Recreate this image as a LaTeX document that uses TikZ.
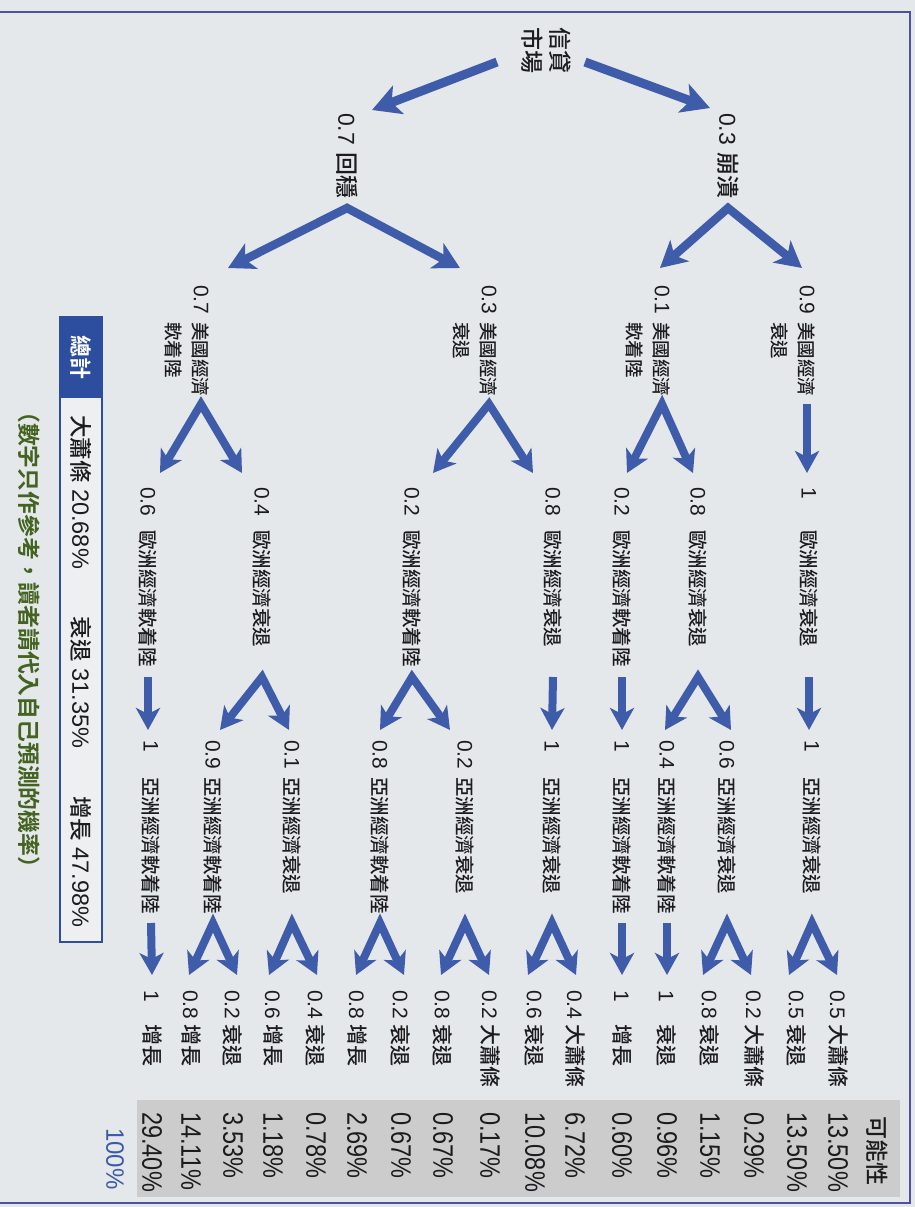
\documentclass[tikz,border=0pt]{standalone}
\usepackage{fontspec}
\setmainfont{Liberation Sans}
\newfontfamily\cjk{Noto Sans CJK TC}[UprightFont={* Medium},BoldFont={* Bold}]
\usetikzlibrary{arrows.meta,calc}
\definecolor{paper}{RGB}{229,232,234}
\definecolor{band}{RGB}{203,204,203}
\definecolor{arrblue}{RGB}{62,92,170}
\definecolor{hdrblue}{RGB}{45,78,158}
\definecolor{framec}{RGB}{80,80,160}
\definecolor{ink}{RGB}{28,28,30}
\definecolor{greentxt}{RGB}{68,98,32}
\definecolor{boxfill}{RGB}{237,239,240}
\definecolor{pctblue}{RGB}{58,90,170}
\newcommand\zh[1]{{\cjk #1}}
\newcommand\zhs[2]{{\cjk\fontsize{#1}{#1}\selectfont #2}}
\newcommand\fsz[1]{\fontsize{#1}{#1}\selectfont}
\newcommand\nb[2]{\makebox[#1][l]{#2}}
\newcommand\Vconn[6]{\draw[varr] ($(#3 |- y#1b)+(#4,0)$) -- (#2 |- y#1a) -- ($(#5 |- y#1b)+(#6,0)$);}
\newcommand\Sconn[3]{\draw[arr] (#2 |- y#1a) -- (#3 |- y#1b);}
\tikzset{
  lab/.style={rotate=-90, anchor=west, inner sep=0pt, text=ink},
  arr/.style={draw=arrblue, line width=8pt, -{Stealth[length=22pt,width=24pt,inset=6pt]}},
  varr/.style={draw=arrblue, line width=8pt, line join=miter,
    {Stealth[length=22pt,width=24pt,inset=6pt]}-{Stealth[length=22pt,width=24pt,inset=6pt]}},
  bigarr/.style={draw=arrblue, line width=9pt, -{Stealth[length=28pt,width=30pt,inset=7pt]}},
  bigvarr/.style={draw=arrblue, line width=8.5pt, line join=miter,
    {Stealth[length=26pt,width=28pt,inset=7pt]}-{Stealth[length=26pt,width=28pt,inset=7pt]}},
}
\begin{document}
\begin{tikzpicture}[x=1pt,y=-1pt]
\useasboundingbox (0,0) rectangle (915,1207);
\fill[paper] (0,0) rectangle (915,1207);
\fill[band] (137,1100) rectangle (900,1197);
\draw[framec, line width=2.5pt] (0,12) -- (910,12) -- (910,1203) -- (0,1203);

% level y coordinates
\coordinate (y1a) at (0,208); \coordinate (y1b) at (0,268);
\coordinate (y2a) at (0,404); \coordinate (y2b) at (0,473);
\coordinate (y3a) at (0,677); \coordinate (y3b) at (0,730);
\coordinate (y4a) at (0,923); \coordinate (y4b) at (0,975);

% root
\node[rotate=-90, inner sep=0pt, text=ink, align=center, font=\fontsize{23}{28}\selectfont\cjk] (root) at (546,51) {信貸\\市場};

% level 1
\node[lab, font=\fsz{23}] (n1a) at (728,113) {\nb{39pt}{0.3}\zh{崩潰}};
\node[lab, font=\fsz{23}] (n1b) at (347,113) {\nb{39pt}{0.7}\zh{回穩}};

% level 2
\node[lab, align=left, font=\fontsize{21}{27}\selectfont] (n2a) at (793.5,285) {\nb{37pt}{0.9}\zhs{18.5}{美國經濟}\\\hspace*{37pt}\zhs{18.5}{衰退}};
\node[lab, align=left, font=\fontsize{21}{27}\selectfont] (n2b) at (648.5,285) {\nb{37pt}{0.1}\zhs{18.5}{美國經濟}\\\hspace*{37pt}\zhs{18.5}{軟着陸}};
\node[lab, align=left, font=\fontsize{21}{27}\selectfont] (n2c) at (475.5,285) {\nb{37pt}{0.3}\zhs{18.5}{美國經濟}\\\hspace*{37pt}\zhs{18.5}{衰退}};
\node[lab, align=left, font=\fontsize{21}{27}\selectfont] (n2d) at (187.5,285) {\nb{37pt}{0.7}\zhs{18.5}{美國經濟}\\\hspace*{37pt}\zhs{18.5}{軟着陸}};
\coordinate (n2a1) at ($(n2a.west)+(13.5,0)$);
\coordinate (n2b1) at ($(n2b.west)+(13.5,0)$);
\coordinate (n2c1) at ($(n2c.west)+(13.5,0)$);
\coordinate (n2d1) at ($(n2d.west)+(13.5,0)$);

% level 3
\tikzset{l3/.style={lab, font=\fsz{21}}}
\node[l3] (n3a) at (809,487) {\nb{43pt}{1}\zhs{19.5}{歐洲經濟衰退}};
\node[l3] (n3b) at (698,487) {\nb{43pt}{0.8}\zhs{19.5}{歐洲經濟衰退}};
\node[l3] (n3c) at (622,487) {\nb{43pt}{0.2}\zhs{19.5}{歐洲經濟軟着陸}};
\node[l3] (n3d) at (553,487) {\nb{43pt}{0.8}\zhs{19.5}{歐洲經濟衰退}};
\node[l3] (n3e) at (412,487) {\nb{43pt}{0.2}\zhs{19.5}{歐洲經濟軟着陸}};
\node[l3] (n3f) at (262,487) {\nb{43pt}{0.4}\zhs{19.5}{歐洲經濟衰退}};
\node[l3] (n3g) at (148,487) {\nb{43pt}{0.6}\zhs{19.5}{歐洲經濟軟着陸}};

% level 4
\node[l3] (n4a) at (812,740) {\nb{37pt}{1}\zhs{19.5}{亞洲經濟衰退}};
\node[l3] (n4b) at (727,740) {\nb{37pt}{0.6}\zhs{19.5}{亞洲經濟衰退}};
\node[l3] (n4c) at (667,740) {\nb{37pt}{0.4}\zhs{19.5}{亞洲經濟軟着陸}};
\node[l3] (n4d) at (622,740) {\nb{37pt}{1}\zhs{19.5}{亞洲經濟軟着陸}};
\node[l3] (n4e) at (552,740) {\nb{37pt}{1}\zhs{19.5}{亞洲經濟衰退}};
\node[l3] (n4f) at (465,740) {\nb{37pt}{0.2}\zhs{19.5}{亞洲經濟衰退}};
\node[l3] (n4g) at (380,740) {\nb{37pt}{0.8}\zhs{19.5}{亞洲經濟軟着陸}};
\node[l3] (n4h) at (292,740) {\nb{37pt}{0.1}\zhs{19.5}{亞洲經濟衰退}};
\node[l3] (n4i) at (213,740) {\nb{37pt}{0.9}\zhs{19.5}{亞洲經濟軟着陸}};
\node[l3] (n4j) at (151,740) {\nb{37pt}{1}\zhs{19.5}{亞洲經濟軟着陸}};

% leaves
\foreach \n/\x/\p/\t in {l1/838/0.5/大蕭條, l2/797/0.5/衰退, l3/754/0.2/大蕭條, l4/710/0.8/衰退,
  l5/667/1/衰退, l6/622/1/增長, l7/575/0.4/大蕭條, l8/535/0.6/衰退, l9/490/0.2/大蕭條,
  l10/443/0.8/衰退, l11/401/0.2/衰退, l12/357/0.8/增長, l13/316/0.4/衰退, l14/273/0.6/增長,
  l15/233/0.2/衰退, l16/191/0.8/增長, l17/152/1/增長}
  {\node[lab, font=\fsz{21}] (\n) at (\x,990) {\nb{34pt}{\p}\zhs{21}{\t}};}

% probabilities
\node[lab, font=\fsz{23}] (kn) at (877,1116) {\zh{可能性}};
\foreach \n/\x/\v in {p1/838/13.50, p2/797/13.50, p3/754/0.29, p4/710/1.15, p5/667/0.96,
  p6/622/0.60, p7/575/6.72, p8/535/10.08, p9/490/0.17, p10/443/0.67, p11/401/0.67,
  p12/357/2.69, p13/316/0.78, p14/273/1.18, p15/233/3.53, p16/191/14.11, p17/152/29.40}
  {\node[lab, font=\fsz{23.5}] (\n) at (\x,1112) {\scalebox{1}[1.2]{\v\%}};}
\node[lab, font=\fsz{24}, text=pctblue] (hund) at (115,1128) {\scalebox{1}[1.05]{100\%}};

% connectors
\draw[bigarr] ($(root.center)+(39,11)$) -- ($(n1a.west)+(-18,-5)$);
\draw[bigarr] ($(root.center)+(-49,11)$) -- ($(n1b.west)+(25,-3)$);
\begin{scope}[varr/.style=bigvarr]
\Vconn{1}{n1a.west}{n2a1}{-5}{n2b1}{-2}
\Vconn{1}{n1b.west}{n2c1}{-29}{n2d1}{27}
\end{scope}
\Sconn{2}{n2a1}{n2a1}
\Vconn{2}{n2b1}{n3b.west}{-5}{n3c.west}{5}
\Vconn{2}{n2c1}{n3d.west}{-20}{n3e.west}{21}
\Vconn{2}{n2d1}{n3f.west}{-20}{n3g.west}{12}
\Sconn{3}{n3a.west}{n3a.west}
\Vconn{3}{n3b.west}{n4b.west}{4}{n4c.west}{-2}
\Sconn{3}{n3c.west}{n4d.west}
\Sconn{3}{n3d.west}{n4e.west}
\Vconn{3}{n3e.west}{n4f.west}{-15}{n4g.west}{0}
\Vconn{3}{n3f.west}{n4h.west}{-3}{n4i.west}{7}
\Sconn{3}{n3g.west}{n3g.west}
\Vconn{4}{n4a.west}{l1.west}{-1}{l2.west}{-8}
\Vconn{4}{n4b.west}{l3.west}{-3}{l4.west}{-7}
\Sconn{4}{n4c.west}{l5.west}
\Sconn{4}{n4d.west}{l6.west}
\Vconn{4}{n4e.west}{l7.west}{1}{l8.west}{-7}
\Vconn{4}{n4f.west}{l9.west}{-1}{l10.west}{-2}
\Vconn{4}{n4g.west}{l11.west}{3}{l12.west}{-1}
\Vconn{4}{n4h.west}{l13.west}{1}{l14.west}{-4}
\Vconn{4}{n4i.west}{l15.west}{4}{l16.west}{-2}
\Sconn{4}{n4j.west}{l17.west}

% total box
\fill[boxfill] (60,317) rectangle (102,942);
\fill[hdrblue] (60,317) rectangle (102,398);
\draw[hdrblue, line width=2.5pt] (60,317) rectangle (102,942);
\node[rotate=-90, inner sep=0pt, text=white, font=\fsz{22}\cjk\bfseries] (tot) at (81,357) {總計};
\node[lab, font=\fsz{23.5}] (sum) at (81,415) {\zhs{22.5}{大蕭條} 20.68\%\hspace{48pt}\zhs{22.5}{衰退} 31.35\%\hspace{48pt}\zhs{22.5}{增長} 47.98\%};

% note
\node[lab, text=greentxt, font=\fsz{22.8}\cjk\bfseries] (note) at (29,400) {（數字只作參考，讀者請代入自己預測的機率）};
\end{tikzpicture}
\end{document}
